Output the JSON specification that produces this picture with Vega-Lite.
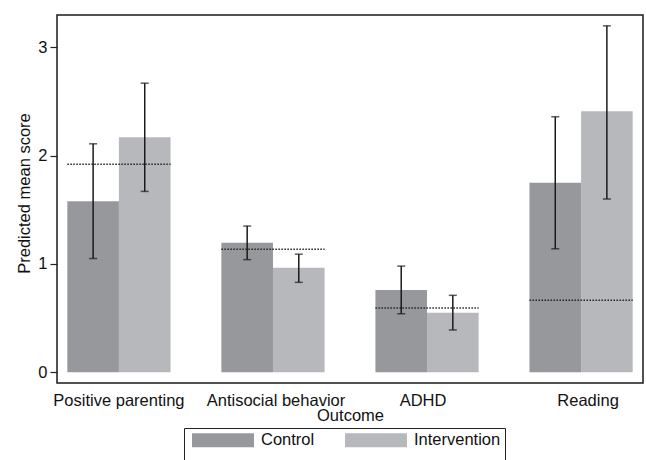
{
  "$schema": "https://vega.github.io/schema/vega-lite/v6.json",
  "width": 586,
  "height": 368,
  "autosize": {"type": "none"},
  "padding": {"left": 57, "top": 15, "right": 3, "bottom": 77},
  "background": "white",
  "config": {"font": "Liberation Sans", "view": {"stroke": "#1a1a1a", "strokeWidth": 1.5}},
  "datasets": {
    "bars": [
      {"outcome": "Positive parenting", "group": "Control", "mean": 1.58, "lo": 1.05, "hi": 2.11},
      {"outcome": "Positive parenting", "group": "Intervention", "mean": 2.17, "lo": 1.67, "hi": 2.67},
      {"outcome": "Antisocial behavior", "group": "Control", "mean": 1.195, "lo": 1.04, "hi": 1.35},
      {"outcome": "Antisocial behavior", "group": "Intervention", "mean": 0.965, "lo": 0.83, "hi": 1.09},
      {"outcome": "ADHD", "group": "Control", "mean": 0.76, "lo": 0.54, "hi": 0.98},
      {"outcome": "ADHD", "group": "Intervention", "mean": 0.55, "lo": 0.39, "hi": 0.71},
      {"outcome": "Reading", "group": "Control", "mean": 1.75, "lo": 1.14, "hi": 2.36},
      {"outcome": "Reading", "group": "Intervention", "mean": 2.41, "lo": 1.6, "hi": 3.2}
    ],
    "refs": [
      {"outcome": "Positive parenting", "ref": 1.92},
      {"outcome": "Antisocial behavior", "ref": 1.136},
      {"outcome": "ADHD", "ref": 0.594},
      {"outcome": "Reading", "ref": 0.665}
    ]
  },
  "layer": [
    {
      "data": {"name": "bars"},
      "mark": {"type": "bar", "opacity": 1},
      "encoding": {
        "x": {
          "field": "outcome", "type": "nominal",
          "sort": ["Positive parenting", "Antisocial behavior", "ADHD", "Reading"],
          "scale": {"paddingInner": 0.33, "paddingOuter": 0.067},
          "axis": {
            "title": "Outcome", "ticks": false, "domain": false, "labelAngle": 0,
            "labelFontSize": 16.5, "labelPadding": 9, "labelColor": "#111",
            "titleFontSize": 16.5, "titleFontWeight": "normal", "titleColor": "#111",
            "titleY": 37, "titleBaseline": "alphabetic",
            "labelOffset": {"condition": [
              {"test": "datum.value === 'Reading'", "value": 7},
              {"test": "datum.value === 'ADHD'", "value": -4},
              {"test": "datum.value === 'Antisocial behavior'", "value": 3}
            ], "value": 0}
          }
        },
        "xOffset": {"field": "group", "type": "nominal", "sort": ["Control", "Intervention"], "scale": {"paddingInner": 0, "paddingOuter": 0}},
        "y": {
          "field": "mean", "type": "quantitative",
          "scale": {"domain": [-0.1, 3.3], "nice": false, "zero": false},
          "axis": {
            "values": [0, 1, 2, 3], "format": "d", "title": "Predicted mean score", "grid": false, "domain": false,
            "tickSize": 7, "tickColor": "#222", "tickWidth": 1.2, "labelFontSize": 16.5, "labelPadding": 3,
            "labelColor": "#111", "titleFontSize": 16.5, "titleFontWeight": "normal", "titleColor": "#111",
            "titleX": -28, "titleY": 178, "titleBaseline": "alphabetic"
          }
        },
        "y2": {"datum": 0},
        "color": {
          "field": "group", "type": "nominal",
          "scale": {"domain": ["Control", "Intervention"], "range": ["#97989c", "#b7b8bc"]},
          "legend": {
            "title": " ", "titleOrient": "bottom", "titleFontSize": 16, "titlePadding": 8,
            "orient": "none", "legendX": 127, "legendY": 413, "direction": "horizontal",
            "symbolType": "M-1,-0.226H1V0.226H-1Z", "symbolSize": 3844, "symbolStrokeWidth": 0,
            "symbolOpacity": 1, "labelFontSize": 16.5, "labelColor": "#111", "labelOffset": 7,
            "symbolOffset": 4, "columnPadding": 26, "padding": 4, "strokeColor": "#222", "clipHeight": 16
          }
        }
      }
    },
    {
      "data": {"name": "refs"},
      "mark": {"type": "rule", "strokeDash": [1.5, 1.5], "strokeWidth": 1.5, "color": "#222"},
      "encoding": {
        "x": {"field": "outcome", "type": "nominal", "sort": ["Positive parenting", "Antisocial behavior", "ADHD", "Reading"], "bandPosition": 0},
        "x2": {"field": "outcome", "bandPosition": 1},
        "y": {"field": "ref", "type": "quantitative"}
      }
    },
    {
      "data": {"name": "bars"},
      "mark": {"type": "rule", "strokeWidth": 1.5, "color": "#1a1a1a"},
      "encoding": {
        "x": {"field": "outcome", "type": "nominal", "sort": ["Positive parenting", "Antisocial behavior", "ADHD", "Reading"]},
        "xOffset": {"field": "group", "type": "nominal", "sort": ["Control", "Intervention"]},
        "y": {"field": "lo", "type": "quantitative"},
        "y2": {"field": "hi"}
      }
    },
    {
      "data": {"name": "bars"},
      "mark": {"type": "tick", "size": 8, "thickness": 1.5, "color": "#1a1a1a", "orient": "horizontal"},
      "encoding": {
        "x": {"field": "outcome", "type": "nominal", "sort": ["Positive parenting", "Antisocial behavior", "ADHD", "Reading"]},
        "xOffset": {"field": "group", "type": "nominal", "sort": ["Control", "Intervention"]},
        "y": {"field": "lo", "type": "quantitative"}
      }
    },
    {
      "data": {"name": "bars"},
      "mark": {"type": "tick", "size": 8, "thickness": 1.5, "color": "#1a1a1a", "orient": "horizontal"},
      "encoding": {
        "x": {"field": "outcome", "type": "nominal", "sort": ["Positive parenting", "Antisocial behavior", "ADHD", "Reading"]},
        "xOffset": {"field": "group", "type": "nominal", "sort": ["Control", "Intervention"]},
        "y": {"field": "hi", "type": "quantitative"}
      }
    }
  ]
}
